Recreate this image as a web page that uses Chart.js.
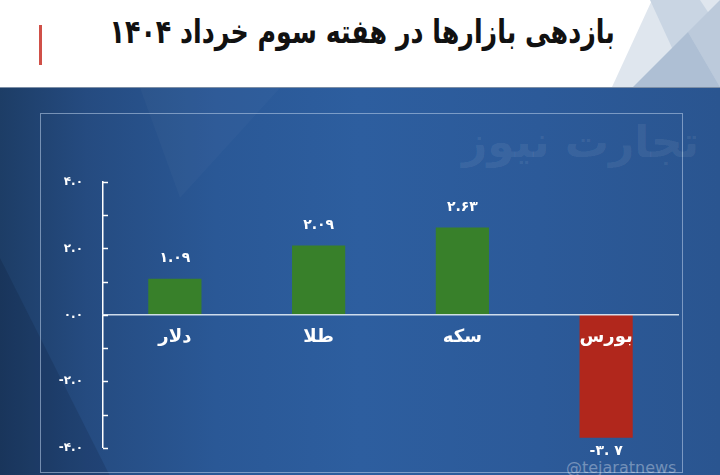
<!DOCTYPE html>
<html><head><meta charset="utf-8">
<script src="https://cdn.jsdelivr.net/npm/chart.js@4.4.1/dist/chart.umd.min.js"></script>
<style>
html,body{margin:0;padding:0;width:720px;height:475px;overflow:hidden;background:#fff;}
#wrap{position:relative;width:720px;height:475px;}
#header{position:absolute;left:0;top:0;width:720px;height:87px;background:#fff;overflow:hidden;}
.tri{position:absolute;left:0;top:0;width:720px;height:87px;}
#t1{background:#dfe6ee;clip-path:polygon(612px 87px,652px 0px,720px 0px,720px 87px);}
#t2{background:#c9d5e3;clip-path:polygon(650px 0px,700px 0px,720px 30px,720px 87px,690px 87px);}
#t3{background:#aebfd4;clip-path:polygon(633px 87px,688px 32px,720px 87px);}
#t4{background:#bccadb;clip-path:polygon(688px 32px,720px 0px,720px 87px);}
#redbar{position:absolute;left:39px;top:25px;width:3px;height:40px;background:#d05048;}
#title{position:absolute;right:105px;top:12px;font-family:"DejaVu Sans",sans-serif;font-weight:bold;font-size:33px;color:#111;direction:rtl;white-space:nowrap;transform:scaleX(0.767);transform-origin:right center;}
#blue{position:absolute;left:0;top:87px;width:720px;height:388px;
 background:linear-gradient(90deg,#1d3d66 0%,#254b80 12%,#2a5896 30%,#2d5e9f 50%,#2c5a99 75%,#2a5590 100%);overflow:hidden;border-top:1px solid #7d8fa6;}
#diag1{position:absolute;left:0;top:0;width:720px;height:388px;background:rgba(255,255,255,0.025);clip-path:polygon(140px 0px,280px 0px,180px 110px);}
#diag2{position:absolute;left:0;top:0;width:720px;height:388px;background:rgba(0,0,20,0.12);clip-path:polygon(0px 170px,110px 388px,0px 388px);}
#panel{position:absolute;left:40px;top:113px;width:643px;height:360px;border:1.5px solid rgba(190,210,235,0.55);box-sizing:border-box;}
#wm{position:absolute;left:462px;top:116px;font-family:"DejaVu Sans",sans-serif;font-weight:bold;font-size:44px;color:rgba(255,255,255,0.08);direction:rtl;white-space:nowrap;}
#handle{position:absolute;left:566px;top:458px;font-family:"DejaVu Sans",sans-serif;font-size:16px;color:rgba(255,255,255,0.35);white-space:nowrap;}
canvas{position:absolute;left:0;top:0;}
</style></head>
<body>
<div id="wrap">
 <div id="header">
  <div class="tri" id="t1"></div><div class="tri" id="t2"></div><div class="tri" id="t4"></div><div class="tri" id="t3"></div>
  <div id="redbar"></div>
  <div id="title">بازدهی بازارها در هفته سوم خرداد ۱۴۰۴</div>
 </div>
 <div id="blue"><div id="diag1"></div><div id="diag2"></div></div>
 <div id="panel"></div>
 <div id="wm">تجارت نیوز</div>
 <div id="handle">@tejaratnews</div>
 <canvas id="c" width="720" height="475"></canvas>
</div>
<script>
const categories = ['دلار','طلا','سکه','بورس'];
const values = [1.09, 2.09, 2.63, -3.7];
const valueLabels = ['۱.۰۹','۲.۰۹','۲.۶۳','-۳. ۷'];
const barColors = ['#38802a','#38802a','#38802a','#b1271c'];
const yMin = -4, yMax = 4, yStep = 1;

const faDigits = '۰۱۲۳۴۵۶۷۸۹';
function toFa(s){ return String(s).replace(/[0-9]/g, d => faDigits[+d]); }

const FONT = '"DejaVu Sans", sans-serif';

const inwardTicks = {
  id:'inwardTicks',
  afterDraw(chart){
    const y = chart.scales.y, ctx = chart.ctx;
    ctx.save();
    ctx.strokeStyle = '#ffffff'; ctx.lineWidth = 1.5;
    y.ticks.forEach(t => {
      const py = Math.round(y.getPixelForValue(t.value)) + 0.5;
      ctx.beginPath(); ctx.moveTo(y.right, py); ctx.lineTo(y.right + 5, py); ctx.stroke();
    });
    ctx.restore();
  }
};

const valueLabelPlugin = {
  id:'valueLabels',
  afterDatasetsDraw(chart){
    const ctx = chart.ctx, meta = chart.getDatasetMeta(0);
    ctx.save();
    ctx.fillStyle = '#ffffff';
    ctx.font = 'bold 14px ' + FONT;
    ctx.textAlign = 'center'; ctx.textBaseline = 'middle';
    meta.data.forEach((bar, i) => {
      const v = values[i];
      const y = v >= 0 ? bar.y - 20 : bar.y + 14;
      ctx.fillText(valueLabels[i], bar.x, y);
    });
    ctx.restore();
  }
};

new Chart(document.getElementById('c'), {
  type:'bar',
  data:{ labels: categories, datasets:[{ data: values, backgroundColor: barColors, borderWidth:0, barPercentage:0.37, categoryPercentage:1 }] },
  options:{
    responsive:false, animation:false,
    layout:{ padding:{ left:40, top:182, right:42, bottom:26 } },
    plugins:{ legend:{display:false}, tooltip:{enabled:false} },
    scales:{
      x:{
        position:{ y: 0 },
        grid:{ display:false, drawTicks:false, z:1 },
        border:{ display:true, color:'rgba(225,235,245,0.9)', width:1.5, z:1 },
        ticks:{ z:2, color:'#ffffff', font:{ family:FONT, size:18, weight:'bold' }, padding:12 }
      },
      y:{
        min:yMin, max:yMax,
        afterFit(s){ s.width = 63; },
        grid:{ display:false, drawTicks:false },
        border:{ display:true, color:'#ffffff', width:1.5 },
        ticks:{
          stepSize:yStep, color:'#ffffff', padding:20,
          font:{ family:FONT, size:12, weight:'bold' },
          callback:(v) => (Math.abs(v) % 2 === 0) ? (v < 0 ? '-' : '') + toFa(Math.abs(v).toFixed(1)) : ''
        }
      }
    }
  },
  plugins:[inwardTicks, valueLabelPlugin]
});
</script>
</body></html>
